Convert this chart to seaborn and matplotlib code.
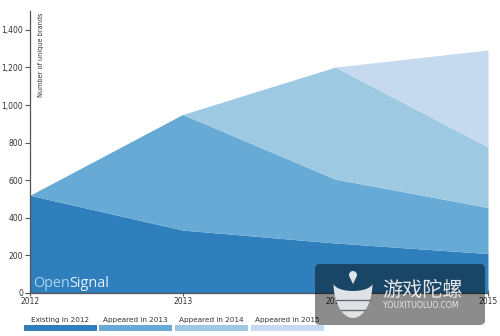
import matplotlib
matplotlib.use("Agg")
import matplotlib.pyplot as plt
from matplotlib.patches import Rectangle, FancyBboxPatch, Polygon, Circle
import numpy as np
import seaborn as sns

years = [2012, 2013, 2014, 2015]
series_names = ["Existing in 2012", "Appeared in 2013", "Appeared in 2014", "Appeared in 2015"]
existing_2012 = [520, 335, 266, 210]
appeared_2013 = [0, 615, 340, 245]
appeared_2014 = [0, 0, 596, 322]
appeared_2015 = [0, 0, 0, 516]
y_ticks = [0, 200, 400, 600, 800, 1000, 1200, 1400]
y_tick_labels = ["0", "200", "400", "600", "800", "1,000", "1,200", "1,400"]

colors = ["#2f7fbd", "#66aad5", "#9dcae2", "#c5daef"]

sns.set_theme(style="white")
plt.rcParams['font.family'] = ['DejaVu Sans']

W, H = 500, 336
fig = plt.figure(figsize=(W / 100, H / 100), dpi=100)
ax = fig.add_axes([0.06, 0.128, 0.916, 0.839])


def fp(x, y):
    return (x / W, 1 - y / H)


ax.stackplot(years, existing_2012, appeared_2013, appeared_2014, appeared_2015,
             colors=colors, linewidth=0)

ax.set_xlim(2012, 2015)
ax.set_ylim(0, 1500)
ax.set_yticks(y_ticks)
ax.set_yticklabels(y_tick_labels)
ax.set_xticks(years)
ax.set_xticklabels([str(y) for y in years])
ax.tick_params(axis="y", direction="out", length=3.5, width=0.8, color="#555555",
               labelsize=5.5, labelcolor="#333333", pad=1.5, left=True)
ax.tick_params(axis="x", direction="inout", length=4, width=0.8, color="#555555",
               labelsize=5.5, labelcolor="#333333", pad=1, bottom=True)
for s in ["top", "right"]:
    ax.spines[s].set_visible(False)
ax.spines["left"].set_color("#555555")
ax.spines["left"].set_linewidth(0.9)
ax.spines["bottom"].set_color("#555555")
ax.spines["bottom"].set_linewidth(0.9)

ax.text(0.017, 0.993, "Number of unique brands", transform=ax.transAxes, rotation=90,
        ha="left", va="top", fontsize=4.7, color="#333333")

# OpenSignal watermark (two-tone, sized to span ~77 px)
renderer = fig.canvas.get_renderer()
t1 = fig.text(*fp(33, 287), "Open", ha="left", va="baseline", fontsize=10,
              color="#a9d3f0", family="Open Sans")
t2 = fig.text(*fp(33, 287), "Signal", ha="left", va="baseline", fontsize=10,
              color="#e4f1fb", family="Open Sans")
w1 = t1.get_window_extent(renderer).width
w2 = t2.get_window_extent(renderer).width
scale = 77.0 / (w1 + w2)
t1.set_fontsize(10 * scale)
t2.set_fontsize(10 * scale)
w1 = t1.get_window_extent(renderer).width
t2.set_position(fp(33 + w1, 287))

# Legend below
leg_x0 = [24, 99, 175, 251]
bw = 73
for i, name in enumerate(series_names):
    x0, y0 = fp(leg_x0[i], 331)
    fig.add_artist(Rectangle((x0, y0), bw / W, 6 / H, transform=fig.transFigure,
                             facecolor=colors[i], edgecolor="none"))
    fig.text(*fp(leg_x0[i] + bw / 2, 322), name, ha="center", va="baseline",
             fontsize=5.2, color="#333333")

# 游戏陀螺 watermark
bx, by = fp(315, 325)
box = FancyBboxPatch((bx, by), 170 / W, 61 / H, boxstyle="round,pad=0,rounding_size=0.012",
                     transform=fig.transFigure, facecolor="#000000", alpha=0.45,
                     edgecolor="none", zorder=10)
fig.add_artist(box)
fig.text(*fp(382, 290), "游戏陀螺", ha="left", va="center", fontsize=14.5, color="#e6e6e6",
         family=["Noto Sans CJK SC", "DejaVu Sans"], zorder=11)
fig.text(*fp(383, 306), "YOUXITUOLUO.COM", ha="left", va="center", fontsize=5.6,
         color="#e6e6e6", zorder=11)

# spinning-top icon
icon_col = "#dfe3e8"
t = np.linspace(0, np.pi, 40)
outer = [fp(353 + 19.5 * np.cos(a), 283 + 35 * np.sin(a)) for a in t]
inner = [fp(353 + 19.5 * np.cos(a), 283 + 8 * np.sin(a)) for a in t[::-1]]
fig.add_artist(Polygon(outer + inner, closed=True, transform=fig.transFigure,
                       facecolor=icon_col, edgecolor="none", zorder=11))
for yy in (300, 310):
    half = 19.5 * np.sqrt(max(0.0, 1 - ((yy - 283) / 35) ** 2))
    xa, ya = fp(353 - half, yy)
    xb, yb = fp(353 + half, yy)
    fig.add_artist(plt.Line2D([xa, xb], [ya, yb], transform=fig.transFigure,
                              color="#6a6a6a", linewidth=1.0, zorder=12))
drop = [fp(353 + 4 * np.cos(a), 275 - 4 * np.sin(a)) for a in np.linspace(-0.3, np.pi + 0.3, 20)]
drop.append(fp(353, 284))
fig.add_artist(Polygon(drop, closed=True, transform=fig.transFigure,
                       facecolor=icon_col, edgecolor="none", zorder=11))

fig.savefig("out.png", dpi=100)
